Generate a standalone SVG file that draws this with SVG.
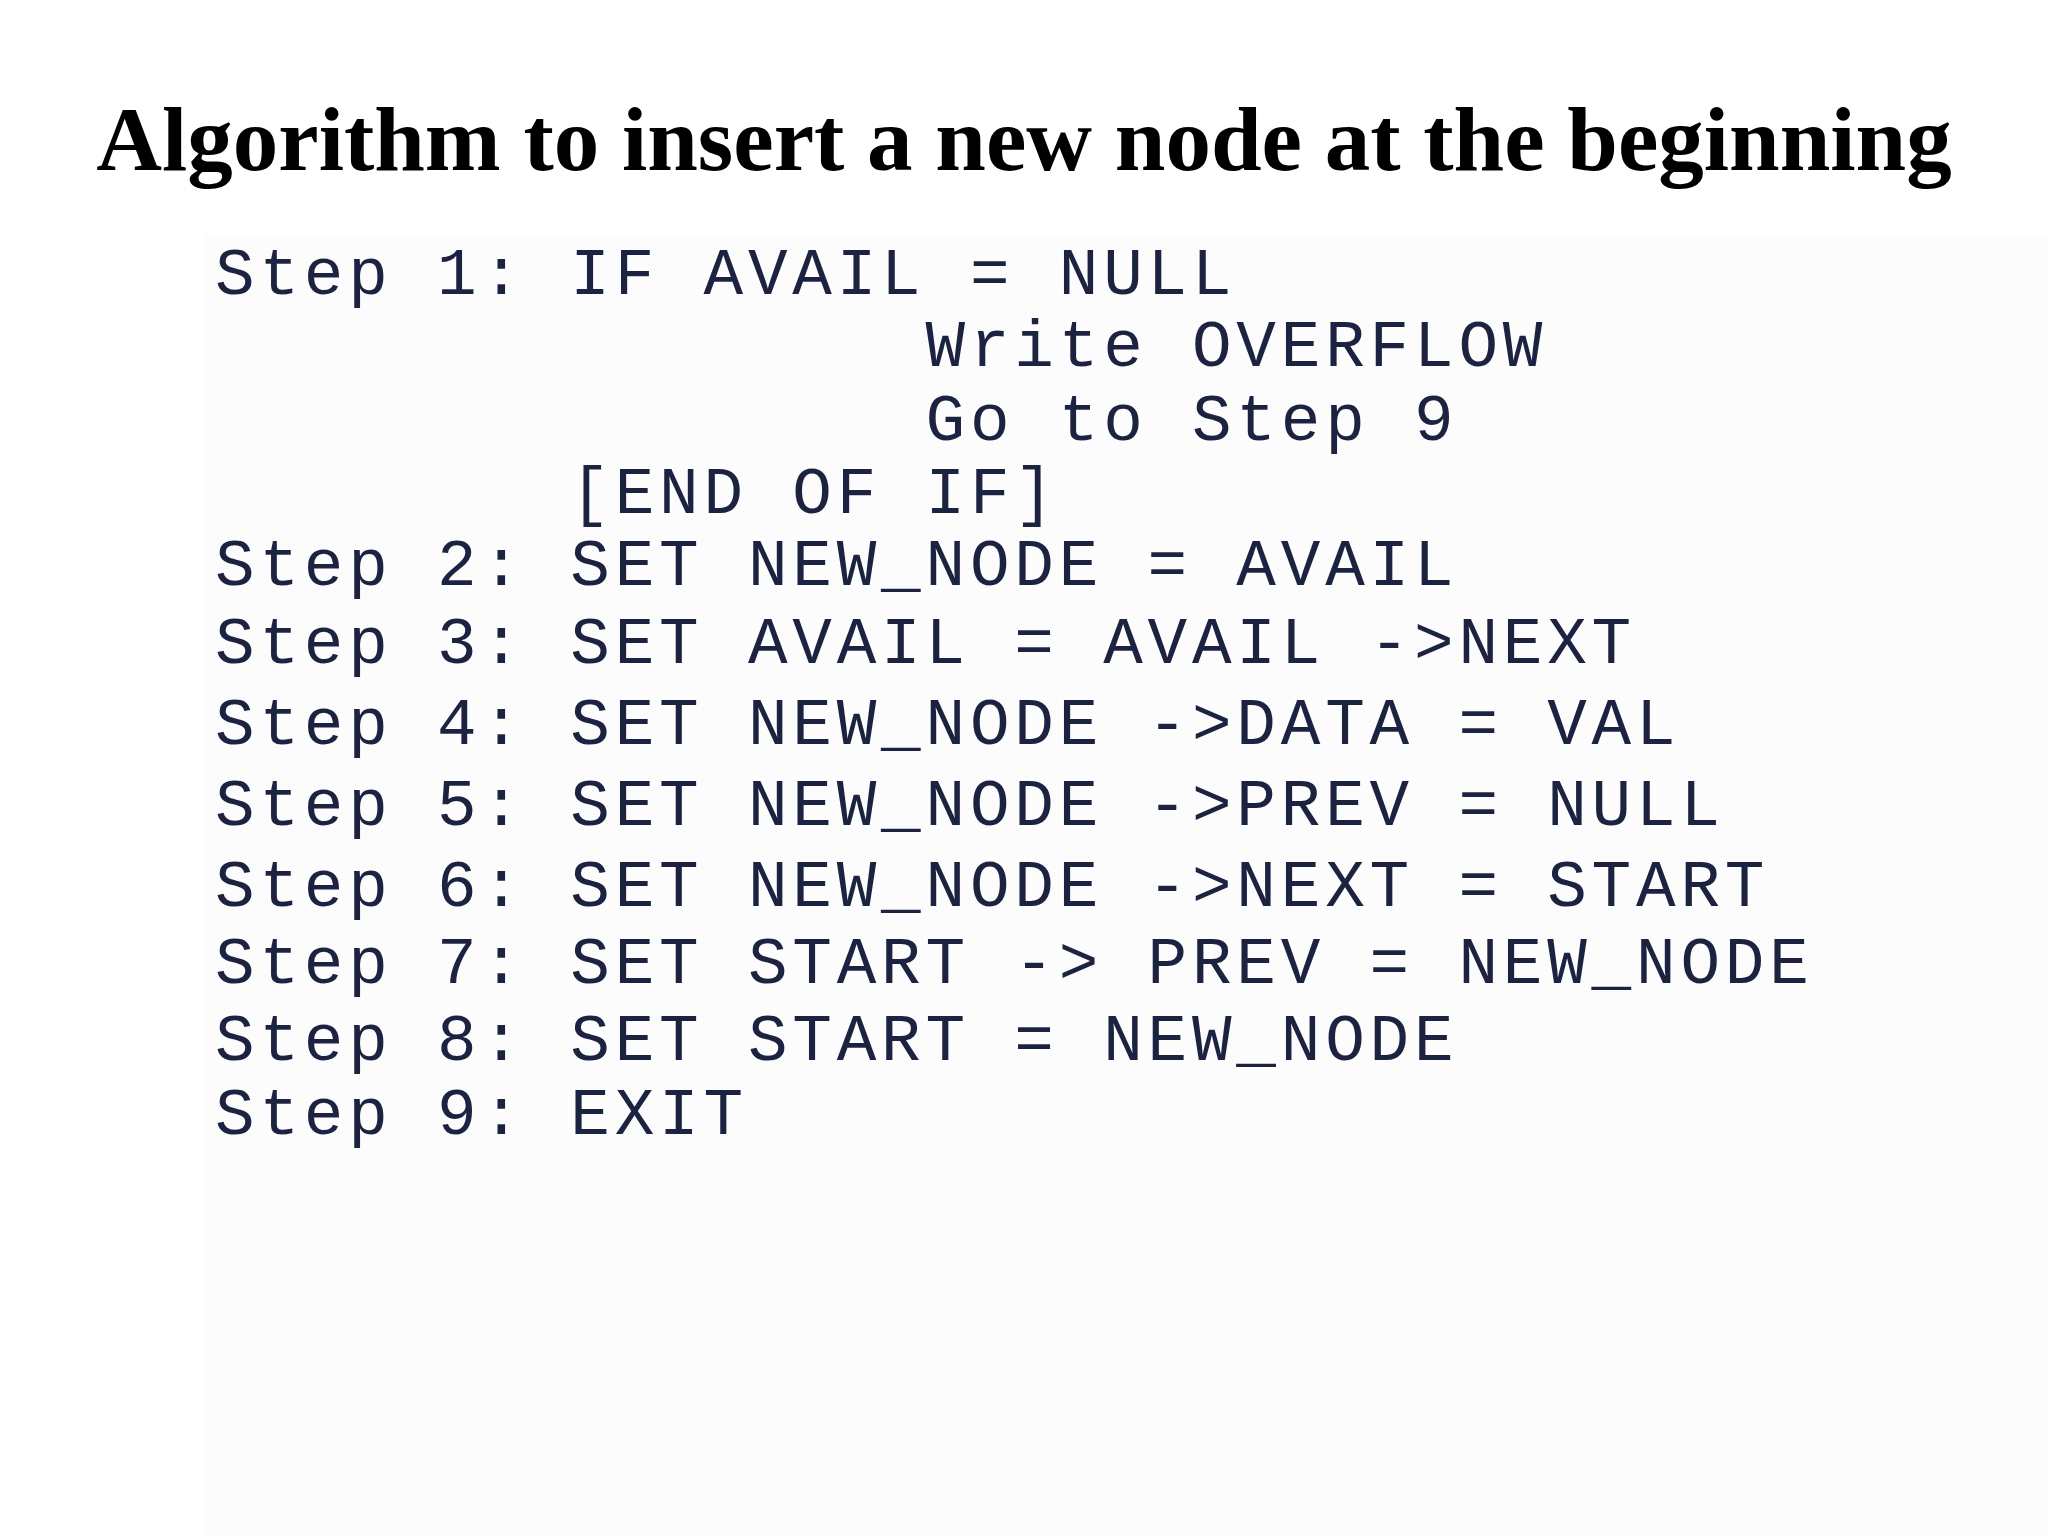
<svg xmlns="http://www.w3.org/2000/svg" width="2048" height="1536" viewBox="0 0 2048 1536">
<style>
.t{font-family:"Liberation Serif","Times New Roman",serif;font-weight:bold;font-size:91px;fill:#000}
.c{font-family:"Liberation Mono","DejaVu Sans Mono",monospace;font-size:66px;letter-spacing:4.8px;fill:#1c2340;white-space:pre}
</style>
<rect width="2048" height="1536" fill="#fff"/>
<rect x="205" y="235" width="1843" height="1301" fill="#fcfcfd"/>
<g id="title"><text class="t" x="1024" y="170" text-anchor="middle">Algorithm to insert a new node at the beginning</text></g>
<g id="code">
<text class="c" x="215" y="294">Step 1: IF AVAIL = NULL</text>
<text class="c" x="215" y="366">                Write OVERFLOW</text>
<text class="c" x="215" y="440">                Go to Step 9</text>
<text class="c" x="215" y="513">        [END OF IF]</text>
<text class="c" x="215" y="585">Step 2: SET NEW_NODE = AVAIL</text>
<text class="c" x="215" y="663">Step 3: SET AVAIL = AVAIL -&gt;NEXT</text>
<text class="c" x="215" y="744">Step 4: SET NEW_NODE -&gt;DATA = VAL</text>
<text class="c" x="215" y="825">Step 5: SET NEW_NODE -&gt;PREV = NULL</text>
<text class="c" x="215" y="906">Step 6: SET NEW_NODE -&gt;NEXT = START</text>
<text class="c" x="215" y="983">Step 7: SET START -&gt; PREV = NEW_NODE</text>
<text class="c" x="215" y="1060">Step 8: SET START = NEW_NODE</text>
<text class="c" x="215" y="1134">Step 9: EXIT</text>
</g>
</svg>
